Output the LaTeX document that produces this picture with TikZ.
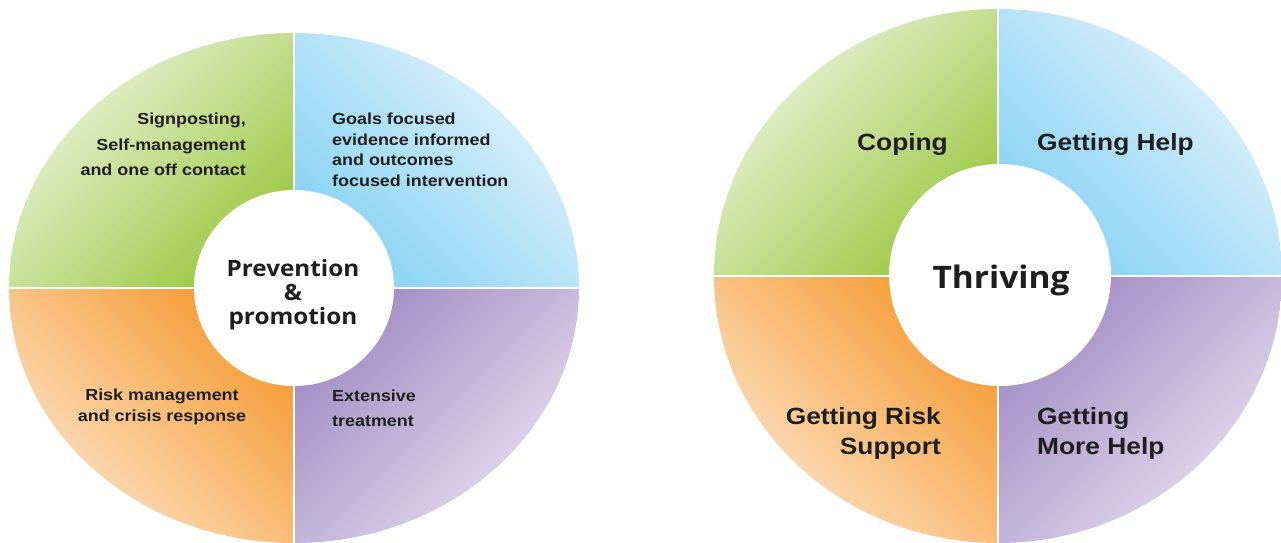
\documentclass[tikz,border=0pt]{standalone}
\usepackage{fontspec}
\newfontfamily\quadfont[FakeStretch=1.12]{Liberation Sans}
\newfontfamily\hubfont[FakeStretch=1.08]{Open Sans}

\definecolor{greenL}{HTML}{EEF5E1}
\definecolor{greenD}{HTML}{9CC843}
\definecolor{blueL}{HTML}{E6F4FC}
\definecolor{blueD}{HTML}{86D2F4}
\definecolor{orangeL}{HTML}{FDE4C9}
\definecolor{orangeD}{HTML}{F59B33}
\definecolor{purpleL}{HTML}{E8E2F0}
\definecolor{purpleD}{HTML}{A18BC4}
\definecolor{ink}{HTML}{1E1E1E}

\begin{document}
\begin{tikzpicture}[x=1pt,y=1pt,
  green part/.style={top color=greenL,middle color=greenD!65!greenL,bottom color=greenD,shading angle=45},
  blue part/.style={top color=blueL,middle color=blueD!65!blueL,bottom color=blueD,shading angle=-45},
  orange part/.style={top color=orangeD,middle color=orangeD!65!orangeL,bottom color=orangeL,shading angle=-45},
  purple part/.style={top color=purpleD,middle color=purpleD!65!purpleL,bottom color=purpleL,shading angle=45},
  divider/.style={draw=white,line width=2.5pt},
  small text/.style={inner sep=0,text=ink,font=\quadfont\bfseries\fontsize{16}{#1}\selectfont},
  big text/.style={inner sep=0,text=ink,font=\quadfont\bfseries\fontsize{23.5}{30}\selectfont}]
\clip (0,0) rectangle (1281,542);
\fill[white] (0,0) rectangle (1281,542);

% left wheel
\shade[green part] (294,254) -- (294,509) arc[start angle=90,end angle=180,x radius=285,y radius=255] -- cycle;
\shade[blue part] (294,254) -- (579,254) arc[start angle=0,end angle=90,x radius=285,y radius=255] -- cycle;
\shade[orange part] (294,254) -- (9,254) arc[start angle=180,end angle=270,x radius=285,y radius=255] -- cycle;
\shade[purple part] (294,254) -- (294,-1) arc[start angle=270,end angle=360,x radius=285,y radius=255] -- cycle;
\draw[divider] (294,-2) -- (294,510);
\draw[divider] (9,254) -- (579,254);
\fill[white] (294,254) ellipse[x radius=100,y radius=98];

\node[small text=25.5,anchor=east,align=right] (signpost) at (246,397.5)
  {Signposting,\\Self-management\\and one off contact};
\node[small text=20.5,anchor=west,align=left] (goals) at (332,392)
  {Goals focused\\evidence informed\\and outcomes\\focused intervention};
\node[small text=21,align=center] (risk) at (162,135)
  {Risk management\\and crisis response};
\node[small text=25.5,anchor=west,align=left] (extensive) at (332,133.5)
  {Extensive\\treatment};
\node[inner sep=0,text=ink,align=center,font=\hubfont\bfseries\fontsize{22.5}{24}\selectfont] (prevention) at (293,247)
  {Prevention\\\&\\promotion};

% right wheel
\shade[green part] (998,266) -- (998,533) arc[start angle=90,end angle=180,x radius=284,y radius=267] -- cycle;
\shade[blue part] (998,266) -- (1282,266) arc[start angle=0,end angle=90,x radius=284,y radius=267] -- cycle;
\shade[orange part] (998,266) -- (714,266) arc[start angle=180,end angle=270,x radius=284,y radius=267] -- cycle;
\shade[purple part] (998,266) -- (998,-1) arc[start angle=270,end angle=360,x radius=284,y radius=267] -- cycle;
\draw[divider] (998,-2) -- (998,534);
\draw[divider] (714,266) -- (1282,266);
\fill[white] (1000,267) circle (111);

\node[big text,anchor=east] (coping) at (948,398) {Coping};
\node[big text,anchor=west] (help) at (1037,398) {Getting Help};
\node[big text,anchor=east,align=right] (riskhelp) at (941,109) {Getting Risk\\Support};
\node[big text,anchor=west,align=left] (morehelp) at (1037,109) {Getting\\More Help};
\node[inner sep=0,text=ink,font=\hubfont\bfseries\fontsize{31}{34}\selectfont] (thriving) at (1001,262) {Thriving};
\end{tikzpicture}
\end{document}
